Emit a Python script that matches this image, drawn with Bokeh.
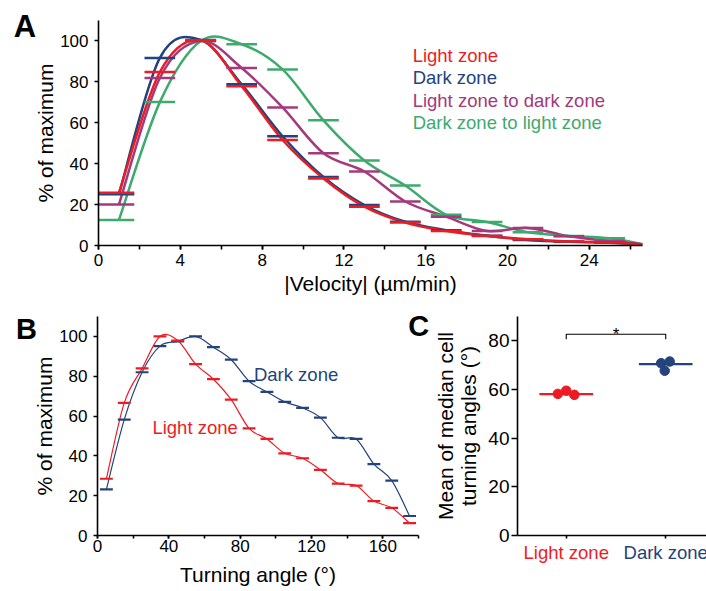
from bokeh.plotting import figure
from bokeh.models import Label, SingleIntervalTicker, FixedTicker, Range1d
from bokeh.layouts import column, row
from bokeh.core.properties import value
from bokeh.embed import file_html
from bokeh.resources import INLINE

FONT = "Liberation Sans"
RED = "#ED1C24"
BLUE = "#24437C"
PURPLE = "#A4397B"
GREEN = "#3DAA6E"

# ---------------- data: panel A (velocity histograms, % of maximum) ----------------
velocity_bins = [1, 3, 5, 7, 9, 11, 13, 15, 17, 19, 21, 23, 25]
light_a = [25.8, 84.8, 100.3, 77.9, 51.6, 32.8, 19.0, 11.2, 7.1, 4.7, 3.0, 1.9, 1.5]
dark_a = [25.0, 91.7, 100.5, 78.8, 53.4, 33.5, 19.8, 11.6, 7.5, 4.8, 2.7, 1.8, 1.4]
l2d_a = [20.0, 81.9, 100.0, 86.8, 67.5, 45.1, 36.2, 21.5, 14.1, 7.1, 8.6, 4.5, 2.2]
d2l_a = [12.5, 70.1, 100.0, 98.4, 86.1, 61.2, 41.6, 29.3, 15.0, 11.5, 6.5, 4.7, 3.5]
velocity_curve_end = 26.6
curve_end_value = 0.6

# ---------------- data: panel B (turning angle histograms) ----------------
angle_bins = [5, 15, 25, 35, 45, 55, 65, 75, 85, 95, 105, 115, 125, 135, 145, 155, 165, 175]
light_b = [28.5, 66.6, 83.9, 100.0, 97.9, 86.1, 78.5, 68.2, 53.8, 48.5, 41.3, 38.8,
           33.0, 26.1, 25.1, 17.3, 13.9, 6.2]
dark_b = [23.2, 58.2, 82.0, 95.1, 97.5, 100.0, 94.6, 88.3, 77.5, 72.1, 67.1, 64.1,
          59.2, 49.1, 48.5, 35.9, 27.6, 9.8]

# ---------------- data: panel C (mean of median turning angles) ----------------
zones_c = ["Light zone", "Dark zone"]
light_c = [58.2, 59.5, 57.8]
dark_c = [70.8, 71.5, 67.7]
light_mean_c = 58.1
dark_mean_c = 70.4
light_jitter = [-0.084, 0.0, 0.081]
dark_jitter = [-0.046, 0.04, -0.01]


def smooth(xs, ys):
    """Catmull-Rom rendering of the data polyline as cubic bezier segments."""
    n = len(xs)
    d = dict(x0=[], y0=[], x1=[], y1=[], cx0=[], cy0=[], cx1=[], cy1=[])
    for i in range(n - 1):
        a = i - 1 if i > 0 else i
        b = i + 2 if i + 2 < n else i + 1
        d["x0"].append(xs[i]); d["y0"].append(ys[i])
        d["x1"].append(xs[i + 1]); d["y1"].append(ys[i + 1])
        d["cx0"].append(xs[i] + (xs[i + 1] - xs[a]) / 6.0)
        d["cy0"].append(ys[i] + (ys[i + 1] - ys[a]) / 6.0)
        d["cx1"].append(xs[i + 1] - (xs[b] - xs[i]) / 6.0)
        d["cy1"].append(ys[i + 1] - (ys[b] - ys[i]) / 6.0)
    return d


def style_axes(p, tick_size="17px", label_size="21px"):
    p.grid.visible = False
    p.outline_line_color = None
    for ax in (p.xaxis[0], p.yaxis[0]):
        ax.axis_line_color = "black"
        ax.axis_line_width = 1.6
        ax.major_tick_line_color = "black"
        ax.major_tick_line_width = 1.6
        ax.minor_tick_line_color = "black"
        ax.minor_tick_line_width = 1.6
        ax.major_tick_in = 0
        ax.minor_tick_in = 0
        ax.major_label_text_font = FONT
        ax.major_label_text_font_size = tick_size
        ax.major_label_text_color = "black"
        ax.axis_label_text_font = FONT
        ax.axis_label_text_font_size = label_size
        ax.axis_label_text_font_style = "normal"
        ax.axis_label_text_color = "black"


def outside_text(p, x, y, text, color="black", size="17px", style="normal",
                 align="left", baseline="top"):
    # text placed outside the plotting frame (panel letters, coloured category labels)
    p.text(x=[x], y=[y], text=[text], text_color=color, text_font=value(FONT),
           text_font_size=size, text_font_style=style, text_align=align,
           text_baseline=baseline, level="overlay")


# ================= Panel A =================
pA = figure(width=706, height=305, x_range=Range1d(0, 26.6), y_range=Range1d(0, 110),
            output_backend="svg", toolbar_location=None,
            min_border_left=98, min_border_right=64, min_border_top=20, min_border_bottom=60)
style_axes(pA)
pA.xaxis.ticker = SingleIntervalTicker(interval=4, num_minor_ticks=2)
pA.yaxis.ticker = SingleIntervalTicker(interval=20, num_minor_ticks=0)
pA.xaxis.major_tick_out = 4
pA.xaxis.minor_tick_out = 4
pA.yaxis.major_tick_out = 4
pA.xaxis.major_label_standoff = 4
pA.yaxis.major_label_standoff = 6
pA.xaxis.axis_label = "|Velocity| (µm/min)"
pA.yaxis.axis_label = "% of maximum"
pA.xaxis.axis_label_standoff = 3
pA.yaxis.axis_label_standoff = 0

for vals, col in [(d2l_a, GREEN), (l2d_a, PURPLE), (dark_a, BLUE), (light_a, RED)]:
    xs = velocity_bins + [velocity_curve_end]
    ys = vals + [curve_end_value]
    pA.bezier(source=smooth(xs, ys), x0="x0", y0="y0", x1="x1", y1="y1",
              cx0="cx0", cy0="cy0", cx1="cx1", cy1="cy1", line_color=col, line_width=2.5)
for vals, col in [(d2l_a, GREEN), (l2d_a, PURPLE), (dark_a, BLUE), (light_a, RED)]:
    left = [v - 0.75 for v in velocity_bins]
    left[0] = -0.25
    pA.segment(x0=left, x1=[v + 0.75 for v in velocity_bins], y0=vals, y1=vals,
               line_color=col, line_width=2.5)

legend_names = ["Light zone", "Dark zone", "Light zone to dark zone", "Dark zone to light zone"]
legend_cols = [RED, BLUE, PURPLE, GREEN]
for i, (name, col) in enumerate(zip(legend_names, legend_cols)):
    pA.add_layout(Label(x=15.36, y=93.0 - i * 11.0, text=name, text_color=col,
                        text_font=FONT, text_font_size="18.5px", text_baseline="middle"))
outside_text(pA, -4.14, 115.5, "A", size="31px", style="bold")

# ================= Panel B =================
pB = figure(width=430, height=286, x_range=Range1d(0, 180), y_range=Range1d(0, 110),
            output_backend="svg", toolbar_location=None,
            min_border_left=97, min_border_right=12, min_border_top=5, min_border_bottom=56)
style_axes(pB)
pB.xaxis.ticker = SingleIntervalTicker(interval=40, num_minor_ticks=2)
pB.yaxis.ticker = SingleIntervalTicker(interval=20, num_minor_ticks=0)
pB.xaxis.major_tick_out = 3
pB.xaxis.minor_tick_out = 3
pB.yaxis.major_tick_out = 4
pB.xaxis.major_label_standoff = 1
pB.yaxis.major_label_standoff = 6
pB.xaxis.axis_label = "Turning angle (°)"
pB.yaxis.axis_label = "% of maximum"
pB.xaxis.axis_label_standoff = 8
pB.yaxis.axis_label_standoff = 0

for vals, col in [(dark_b, BLUE), (light_b, RED)]:
    pB.bezier(source=smooth(angle_bins, vals), x0="x0", y0="y0", x1="x1", y1="y1",
              cx0="cx0", cy0="cy0", cx1="cx1", cy1="cy1", line_color=col, line_width=1.2)
for vals, col in [(dark_b, BLUE), (light_b, RED)]:
    pB.segment(x0=[a - 3.6 for a in angle_bins], x1=[a + 3.6 for a in angle_bins],
               y0=vals, y1=vals, line_color=col, line_width=2.2)

pB.add_layout(Label(x=87.7, y=81.1, text="Dark zone", text_color=BLUE, text_font=FONT,
                    text_font_size="18.5px", text_baseline="middle"))
pB.add_layout(Label(x=30.8, y=54.3, text="Light zone", text_color=RED, text_font=FONT,
                    text_font_size="18.5px", text_baseline="middle"))
outside_text(pB, -45.7, 112.0, "B", size="29px", style="bold")
outside_text(pB, 174.3, 113.2, "C", size="29px", style="bold")

# ================= Panel C =================
pC = figure(width=276, height=286, x_range=Range1d(0.51, 2.41), y_range=Range1d(0, 90),
            output_backend="svg", toolbar_location=None,
            min_border_left=87, min_border_right=0, min_border_top=11, min_border_bottom=55)
style_axes(pC, tick_size="19px")
pC.xaxis.ticker = FixedTicker(ticks=[1, 2])
pC.xaxis.major_label_overrides = {1: " ", 2: " "}
pC.xaxis.major_tick_out = 3
pC.yaxis.ticker = SingleIntervalTicker(interval=20, num_minor_ticks=0)
pC.yaxis.major_tick_out = 6
pC.yaxis.major_label_standoff = 2
pC.yaxis.axis_label = "Mean of median cell\nturning angles (°)"
pC.yaxis.axis_label_text_line_height = 1.0
pC.yaxis.axis_label_standoff = 5

pC.segment(x0=[1 - 0.27, 2 - 0.27], x1=[1 + 0.27, 2 + 0.27],
           y0=[light_mean_c, dark_mean_c], y1=[light_mean_c, dark_mean_c],
           line_color=[RED, BLUE], line_width=2.2)
pC.scatter(x=[1 + j for j in light_jitter], y=light_c, size=9.5, color=RED)
pC.scatter(x=[2 + j for j in dark_jitter], y=dark_c, size=9.5, color=BLUE)

# significance bracket
pC.line(x=[1, 1, 2, 2], y=[80.7, 82.7, 82.7, 80.7], line_color="black", line_width=1.1)
pC.add_layout(Label(x=1.5, y=82.6, text="*", text_font=FONT, text_font_size="17px",
                    text_align="center", text_baseline="alphabetic", text_color="black"))

for i, (name, col) in enumerate(zip(zones_c, [RED, BLUE])):
    outside_text(pC, 1 + i, -2.6, name, color=col, size="18.5px", align="center")

layout = column(pA, row(pB, pC))
open("out.html", "w").write(file_html(layout, INLINE))
